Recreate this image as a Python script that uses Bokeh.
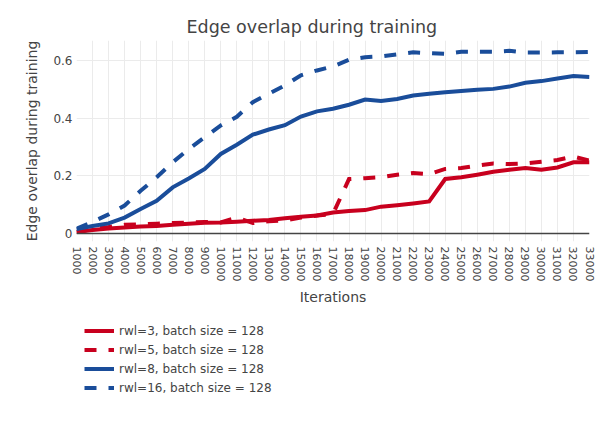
from bokeh.embed import file_html
from bokeh.layouts import column
from bokeh.models import FixedTicker, Legend, LegendItem, Span
from bokeh.plotting import figure
from bokeh.resources import INLINE
import math

# Training checkpoints (iterations)
iterations = [1000 * k for k in range(1, 34)]

# Edge overlap per run (random-walk length, batch size 128)
rwl3 = [0.005, 0.012, 0.017, 0.021, 0.024, 0.026, 0.030, 0.034, 0.037, 0.038,
        0.041, 0.044, 0.047, 0.053, 0.058, 0.062, 0.073, 0.078, 0.081, 0.093,
        0.098, 0.104, 0.111, 0.189, 0.195, 0.204, 0.214, 0.221, 0.227, 0.221,
        0.229, 0.247, 0.247]
rwl5 = [0.005, 0.016, 0.022, 0.030, 0.031, 0.034, 0.036, 0.038, 0.040, 0.038,
        0.055, 0.036, 0.042, 0.045, 0.055, 0.062, 0.068, 0.189, 0.192, 0.195,
        0.204, 0.210, 0.206, 0.224, 0.227, 0.236, 0.243, 0.241, 0.243, 0.249,
        0.255, 0.267, 0.253]
rwl8 = [0.015, 0.026, 0.035, 0.055, 0.085, 0.113, 0.160, 0.191, 0.224, 0.276,
        0.308, 0.343, 0.361, 0.376, 0.406, 0.424, 0.433, 0.447, 0.465, 0.460,
        0.467, 0.479, 0.485, 0.490, 0.495, 0.499, 0.502, 0.510, 0.523, 0.529,
        0.538, 0.547, 0.543]
rwl16 = [0.016, 0.040, 0.066, 0.097, 0.148, 0.195, 0.247, 0.293, 0.334, 0.375,
         0.405, 0.456, 0.485, 0.514, 0.549, 0.566, 0.580, 0.603, 0.612, 0.615,
         0.622, 0.629, 0.626, 0.624, 0.631, 0.631, 0.631, 0.634, 0.628, 0.628,
         0.629, 0.629, 0.630]

series_names = ["rwl=3, batch size = 128", "rwl=5, batch size = 128",
                "rwl=8, batch size = 128", "rwl=16, batch size = 128"]

y_ticks = [0, 0.2, 0.4, 0.6]
y_tick_labels = ["0", "0.2", "0.4", "0.6"]
x_tick_labels = [str(v) for v in iterations]

RED = "#c8001e"
BLUE = "#1a4d9a"
FONT = "DejaVu Sans"
TEXT = "#444444"

styles = [(rwl3, RED, "solid"), (rwl5, RED, "12 12"),
          (rwl8, BLUE, "solid"), (rwl16, BLUE, "12 12")]

# ---- main chart ----
p = figure(width=613, height=310,
           x_range=(1000, 33000), y_range=(-0.028, 0.670),
           output_backend="svg", toolbar_location=None,
           min_border_left=76, min_border_right=24,
           min_border_top=40, min_border_bottom=69)

p.title.text = "Edge overlap during training"
p.title.align = "left"
p.title.offset = 110
p.title.standoff = 8
p.title.text_font = FONT
p.title.text_font_size = "17.5px"
p.title.text_font_style = "normal"
p.title.text_color = TEXT

p.outline_line_color = None

for ax in (p.xaxis[0], p.yaxis[0]):
    ax.axis_line_color = None
    ax.major_tick_line_color = None
    ax.minor_tick_line_color = None
    ax.major_tick_out = 0
    ax.major_tick_in = 0
    ax.major_label_text_font = FONT
    ax.major_label_text_color = TEXT
    ax.axis_label_text_font = FONT
    ax.axis_label_text_font_style = "normal"
    ax.axis_label_text_color = TEXT
    ax.axis_label_text_font_size = "14px"

p.xaxis.ticker = FixedTicker(ticks=iterations)
p.xaxis.major_label_overrides = dict(zip(iterations, x_tick_labels))
p.xaxis.major_label_orientation = -math.pi / 2
p.xaxis.major_label_text_font_size = "11px"
p.xaxis.major_label_standoff = 5
p.xaxis.axis_label = "Iterations"
p.xaxis.axis_label_standoff = 5

p.yaxis.ticker = FixedTicker(ticks=y_ticks)
p.yaxis.major_label_overrides = dict(zip(y_ticks, y_tick_labels))
p.yaxis.major_label_text_font_size = "12px"
p.yaxis.major_label_standoff = 4
p.yaxis.axis_label = "Edge overlap during training"
p.yaxis.axis_label_standoff = 10

p.xgrid.grid_line_color = "#ebebeb"
p.ygrid.grid_line_color = "#ebebeb"

p.add_layout(Span(location=0, dimension="width", line_color=TEXT, line_width=1.5))

for ys, color, dash in styles:
    p.line(iterations, ys, line_color=color, line_width=4,
           line_dash=dash, line_join="miter")

# ---- legend strip under the chart ----
lg = figure(width=613, height=114, x_range=(0, 1), y_range=(0, 1),
            output_backend="svg", toolbar_location=None,
            x_axis_location=None, y_axis_location=None,
            min_border=0)
lg.grid.visible = False
lg.outline_line_color = None

# legend-only proxies: one undrawn point each, carrying the series style
items = []
for (_, color, dash), name in zip(styles, series_names):
    r = lg.line([float("nan")], [float("nan")], line_color=color,
                line_width=4, line_dash=dash)
    items.append(LegendItem(label=name, renderers=[r]))

legend = Legend(items=items, location=(8, 27), orientation="vertical",
                margin=0, padding=10, spacing=0,
                glyph_width=30, glyph_height=19, label_height=19,
                label_standoff=5, label_text_font=FONT,
                label_text_font_size="12px", label_text_color=TEXT,
                border_line_color=None, background_fill_alpha=0)
lg.add_layout(legend, "center")

open("out.html", "w").write(file_html(column(p, lg, spacing=0), INLINE))
